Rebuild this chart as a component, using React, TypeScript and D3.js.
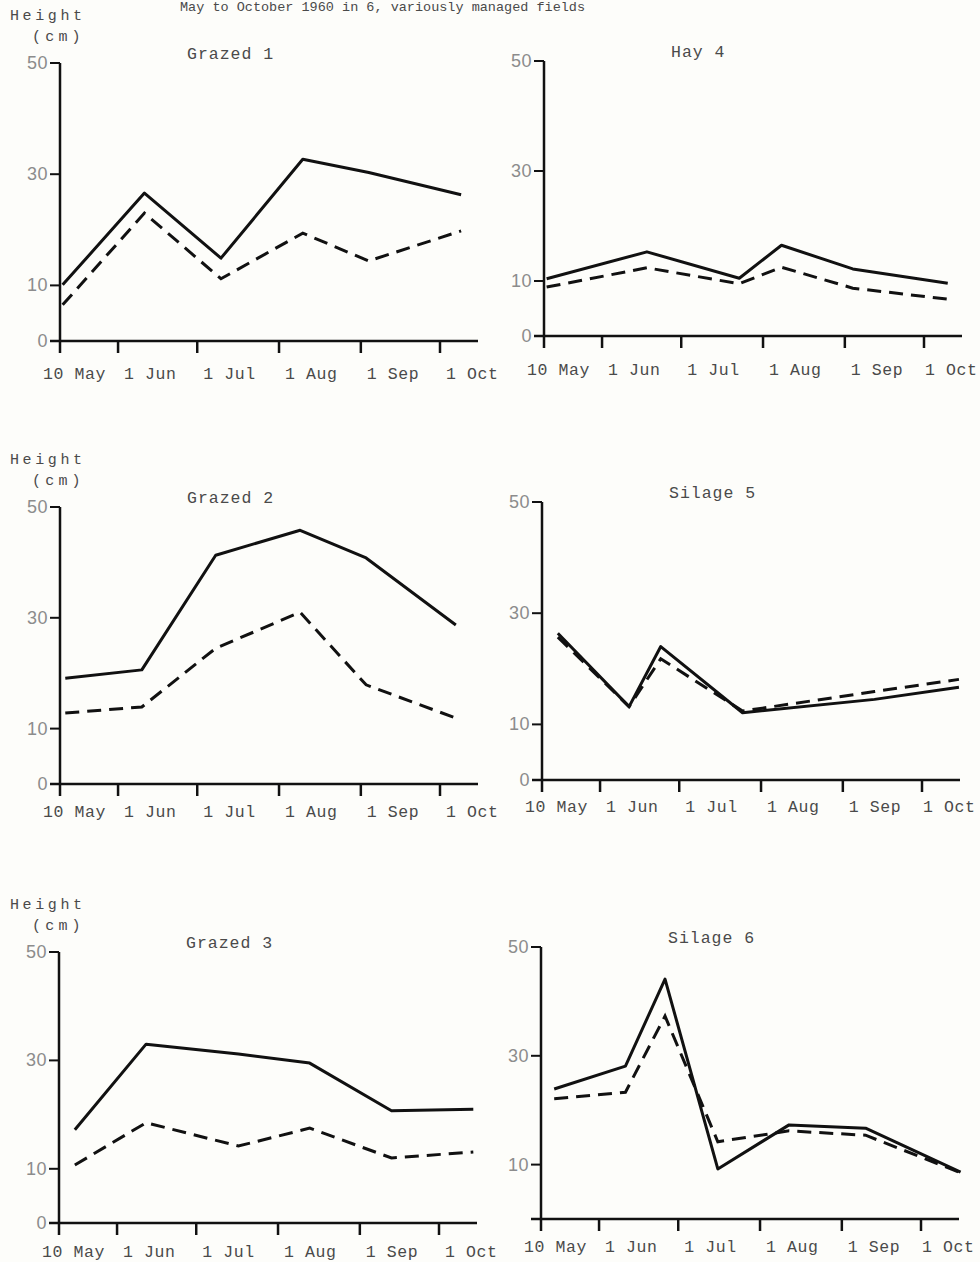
import React from 'react';
import { scaleTime, scaleLinear, line } from 'd3';

// sward height, May to Oct 1960; solid and dashed series per field
const titles = ['Grazed 1', 'Hay 4', 'Grazed 2', 'Silage 5', 'Grazed 3', 'Silage 6'];

const dates1 = ['1960-05-11', '1960-06-11', '1960-07-10', '1960-08-10', '1960-09-04', '1960-10-09'];
const solid1 = [10.1, 26.6, 14.9, 32.7, 30.3, 26.3];
const dashed1 = [6.5, 23, 11.2, 19.4, 14.4, 19.8];

const dates4 = ['1960-05-11', '1960-06-18', '1960-07-23', '1960-08-08', '1960-09-04', '1960-10-10'];
const solid4 = [10.4, 15.3, 10.5, 16.5, 12.2, 9.6];
const dashed4 = [8.9, 12.4, 9.5, 12.5, 8.7, 6.7];

const dates2 = ['1960-05-12', '1960-06-10', '1960-07-08', '1960-08-09', '1960-09-03', '1960-10-07'];
const solid2 = [19.1, 20.6, 41.3, 45.8, 40.8, 28.7];
const dashed2 = [12.8, 13.9, 24.5, 31, 17.9, 11.9];

const dates5 = ['1960-05-16', '1960-06-12', '1960-06-24', '1960-07-25', '1960-09-13', '1960-10-15'];
const solid5 = [26.4, 13.2, 24, 12.1, 14.5, 16.7];
const dashed5 = [25.7, 13.2, 21.8, 12.4, 15.9, 18.1];

const dates3 = ['1960-05-16', '1960-06-12', '1960-07-17', '1960-08-13', '1960-09-13', '1960-10-14'];
const solid3 = [17.2, 33, 31.2, 29.5, 20.7, 21];
const dashed3 = [10.7, 18.5, 14.2, 17.5, 12, 13.1];

const dates6 = ['1960-05-15', '1960-06-11', '1960-06-26', '1960-07-16', '1960-08-12', '1960-09-10', '1960-10-16'];
const solid6 = [23.9, 28.1, 44.1, 9.2, 17.3, 16.7, 8.6];
const dashed6 = [22.1, 23.3, 37.3, 14.2, 16.2, 15.4, 8.5];

const xTickDates = ['1960-05-10', '1960-06-01', '1960-07-01', '1960-08-01', '1960-09-01', '1960-10-01'];
const xTickLabels = ['10 May', '1 Jun', '1 Jul', '1 Aug', '1 Sep', '1 Oct'];
const yTicks = [0, 10, 30, 50];

const panelData = [
  { dates: dates1, solid: solid1, dashed: dashed1 },
  { dates: dates4, solid: solid4, dashed: dashed4 },
  { dates: dates2, solid: solid2, dashed: dashed2 },
  { dates: dates5, solid: solid5, dashed: dashed5 },
  { dates: dates3, solid: solid3, dashed: dashed3 },
  { dates: dates6, solid: solid6, dashed: dashed6 },
];

// where each scanned panel sits on the page
const layout = [
  { left: 60, top: 63, h: 278, labelDy: 38 },
  { left: 544, top: 61, h: 275, labelDy: 39 },
  { left: 60, top: 507, h: 277, labelDy: 33 },
  { left: 542, top: 502, h: 278, labelDy: 32 },
  { left: 59, top: 952, h: 271, labelDy: 34 },
  { left: 541, top: 947, h: 272, labelDy: 33 },
];

const mono = '"Liberation Mono", "DejaVu Sans Mono", monospace';
const ink = '#111';
const textGray = '#4a4a4a';

function Panel({ idx }: { idx: number }) {
  const { left, top, h, labelDy } = layout[idx];
  const d = panelData[idx];
  const parse = (s: string) => new Date(s + 'T00:00:00');
  const x = scaleTime().domain([parse(xTickDates[0]), parse(xTickDates[5])]).range([0, 380]);
  const y = scaleLinear().domain([0, 50]).range([h, 0]);
  const pts = (vals: number[]) => d.dates.map((s, i) => ({ t: parse(s), v: vals[i] }));
  const gen = line<{ t: Date; v: number }>().x(p => x(p.t)).y(p => y(p.v));
  const leftCol = idx % 2 === 0;
  const showZero = idx !== 5;

  return (
    <g transform={`translate(${left}, ${top})`}>
      <text x={127} y={-4} fontFamily={mono} fontSize={16.5} letterSpacing={1} fill={textGray}>
        {titles[idx]}
      </text>
      {leftCol && (
        <g fontFamily={mono} fill={textGray}>
          <text x={10 - left} y={-43} fontSize={15} letterSpacing={3.6}>Height</text>
          <text x={32 - left} y={-22} fontSize={15} letterSpacing={4.2}>(cm)</text>
        </g>
      )}
      {/* axes */}
      <line x1={0} x2={0} y1={y(50)} y2={y(0) + 12} stroke={ink} strokeWidth={2.5} />
      <line x1={-10} x2={418} y1={y(0)} y2={y(0)} stroke={ink} strokeWidth={2.5} />
      {yTicks.filter(v => v > 0).map(v => (
        <line key={v} x1={-10} x2={0} y1={y(v)} y2={y(v)} stroke={ink} strokeWidth={2} />
      ))}
      {yTicks.filter(v => v > 0 || showZero).map(v => (
        <text key={'l' + v} x={-12} y={y(v) + 6} textAnchor="end" fontFamily='"Liberation Sans", sans-serif'
          fontSize={18} letterSpacing={0.5} fill="#8c8c8c">{v}</text>
      ))}
      {xTickDates.map((s, i) => (
        <g key={s}>
          {i > 0 && <line x1={x(parse(s))} x2={x(parse(s))} y1={y(0)} y2={y(0) + 12} stroke={ink} strokeWidth={2.5} />}
          <text x={x(parse(s)) + (i === 0 ? -17 : i === 5 ? (leftCol ? 6 : 1) : 6)} y={y(0) + labelDy} fontFamily={mono}
            fontSize={16.5} letterSpacing={0.6} fill={textGray}>{xTickLabels[i]}</text>
        </g>
      ))}
      {/* series */}
      <path d={gen(pts(d.dashed)) || ''} fill="none" stroke={ink} strokeWidth={3} strokeDasharray="14 8" />
      <path d={gen(pts(d.solid)) || ''} fill="none" stroke={ink} strokeWidth={3} strokeLinejoin="round" />
    </g>
  );
}

export default function App() {
  return (
    <svg width={980} height={1262} style={{ position: 'absolute', left: 0, top: 0 }}>
      <rect width={980} height={1262} fill="#fdfdfa" />
      <text x={180} y={11} fontFamily={mono} fontSize={13.5} fill={textGray}>
        May to October 1960 in 6, variously managed fields
      </text>
      {titles.map((_, i) => <Panel key={i} idx={i} />)}
    </svg>
  );
}
